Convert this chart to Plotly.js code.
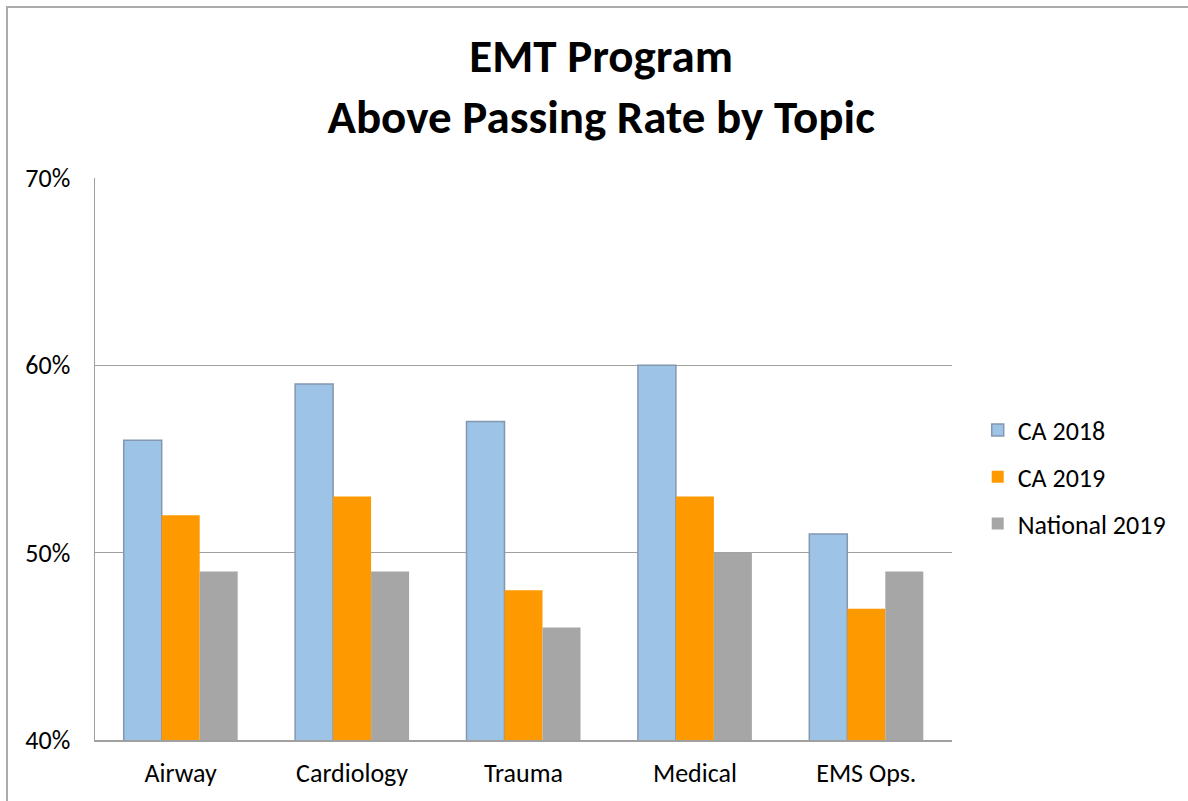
<!DOCTYPE html>
<html>
<head>
<meta charset="utf-8">
<script src="https://cdn.plot.ly/plotly-3.0.1.min.js"></script>
<style>html,body{margin:0;padding:0;background:#fff;}</style>
</head>
<body>
<div id="chart" style="width:1188px;height:801px;"></div>
<script>
const categories = ["Airway", "Cardiology", "Trauma", "Medical", "EMS Ops."];
const seriesNames = ["CA 2018", "CA 2019", "National 2019"];
const ca2018 = [0.56, 0.59, 0.57, 0.60, 0.51];
const ca2019 = [0.52, 0.53, 0.48, 0.53, 0.47];
const national2019 = [0.49, 0.49, 0.46, 0.50, 0.49];
const yTickVals = [0.4, 0.5, 0.6, 0.7];
const yTickText = ["40%", "50%", "60%", "70%"];

const font = "Carlito, Calibri, 'Liberation Sans', Arial, sans-serif";

const traces = [
  {name: seriesNames[0], y: ca2018, color: "#9DC3E6", line: {color: "#8497B0", width: 1.5}},
  {name: seriesNames[1], y: ca2019, color: "#FF9900", line: {color: "#FF9900", width: 0}},
  {name: seriesNames[2], y: national2019, color: "#A6A6A6", line: {color: "#A6A6A6", width: 0}}
].map((s, i) => ({
  type: "bar",
  x: categories,
  y: s.y,
  name: s.name,
  legendgroup: "g" + i,
  marker: {color: s.color, line: s.line},
  hoverinfo: "none"
}));

const layout = {
  width: 1188,
  height: 801,
  paper_bgcolor: "#fff",
  plot_bgcolor: "#fff",
  margin: {l: 95, r: 236, t: 178, b: 61, pad: 0},
  title: {
    text: "<b>EMT Program<br>Above Passing Rate by Topic</b>",
    font: {family: font, size: 47, color: "#000"},
    x: 0.506, xanchor: "center",
    y: 0.91, yanchor: "middle"
  },
  barmode: "group",
  bargap: 0.335,
  bargroupgap: 0,
  showlegend: true,
  legend: {
    x: 1.03, xanchor: "left",
    y: 0.468, yanchor: "middle",
    traceorder: "grouped",
    tracegroupgap: 10,
    font: {family: font, size: 26, color: "#000"},
    bgcolor: "rgba(0,0,0,0)"
  },
  xaxis: {
    showgrid: false,
    showline: true,
    linecolor: "#A0A0A0",
    linewidth: 1.5,
    ticks: "",
    tickfont: {family: font, size: 26, color: "#000"},
    ticklabelstandoff: 9,
    zeroline: false,
    fixedrange: true
  },
  yaxis: {
    range: [0.4, 0.7],
    tickvals: yTickVals,
    ticktext: yTickText,
    showgrid: true,
    gridcolor: "#A0A0A0",
    gridwidth: 1.2,
    showline: true,
    linecolor: "#A0A0A0",
    linewidth: 1.5,
    ticks: "",
    tickfont: {family: font, size: 26, color: "#000"},
    ticklabelstandoff: 18,
    zeroline: false,
    fixedrange: true
  },
  shapes: [{
    type: "rect", xref: "paper", yref: "paper",
    x0: (7 - 95) / 857, x1: (1200 - 95) / 857,
    y0: (740 - 810) / 562, y1: (740 - 7) / 562,
    line: {color: "#ABABAB", width: 2},
    fillcolor: "rgba(0,0,0,0)",
    layer: "below"
  }]
};

Plotly.newPlot("chart", traces, layout, {displayModeBar: false, staticPlot: true});
</script>
</body>
</html>
